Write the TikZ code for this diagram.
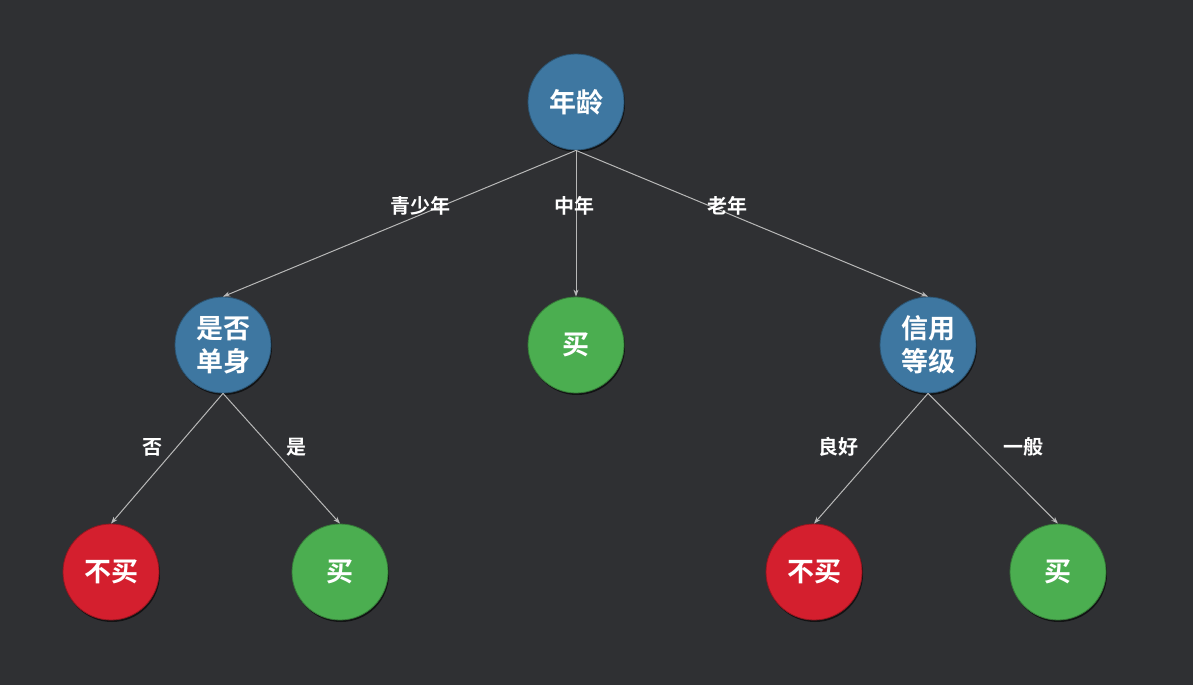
\documentclass[tikz,border=0pt]{standalone}
\usepackage{fontspec}
\newfontfamily\cjk{Noto Sans CJK SC}[BoldFont={Noto Sans CJK SC Bold}]
\usetikzlibrary{arrows.meta,shadows}
\definecolor{bg}{HTML}{2F3033}
\definecolor{nblue}{HTML}{3E77A1}
\definecolor{nred}{HTML}{D41F2E}
\definecolor{ngreen}{HTML}{4BAE50}
\definecolor{edge}{HTML}{B8B8B8}
\tikzset{
  tnode/.style={circle, minimum size=96pt, inner sep=0pt, align=center,
    text=white, font=\cjk\bfseries\fontsize{27}{33}\selectfont,
    drop shadow={shadow xshift=1pt, shadow yshift=-2pt, opacity=0.6, fill=black}},
  decn/.style={tnode, fill=nblue, draw=nblue!70!black, line width=0.8pt},
  nobuy/.style={tnode, fill=nred, draw=nred!70!black, line width=0.8pt},
  buy/.style={tnode, fill=ngreen, draw=ngreen!70!black, line width=0.8pt},
  conn/.style={draw=edge, line width=1pt, -{Stealth[length=7pt,width=5pt]}},
  elabel/.style={text=white, font=\cjk\bfseries\fontsize{20}{24}\selectfont, inner sep=1pt}
}
\begin{document}
\begin{tikzpicture}[x=1pt,y=1pt]
\fill[bg] (0,0) rectangle (1193,-685);
\useasboundingbox (0,0) rectangle (1193,-685);

\node[decn] (root) at (576,-102) {年龄};
\node[decn] (single) at (223,-345) {是否\\单身};
\node[buy] (mid) at (576,-345) {买};
\node[decn] (credit) at (928,-345) {信用\\等级};
\node[nobuy] (n1) at (111,-572) {不买};
\node[buy] (b1) at (340,-572) {买};
\node[nobuy] (n2) at (814,-572) {不买};
\node[buy] (b2) at (1058,-572) {买};

\draw[conn] (root.south) -- (single.north);
\draw[conn] (root.south) -- (mid.north);
\draw[conn] (root.south) -- (credit.north);
\draw[conn] (single.south) -- (n1.north);
\draw[conn] (single.south) -- (b1.north);
\draw[conn] (credit.south) -- (n2.north);
\draw[conn] (credit.south) -- (b2.north);

\node[elabel] (l1) at (420,-206) {青少年};
\node[elabel] (l2) at (574,-206) {中年};
\node[elabel] (l3) at (727,-206) {老年};
\node[elabel] (l4) at (152,-447) {否};
\node[elabel] (l5) at (296,-447) {是};
\node[elabel] (l6) at (838,-447) {良好};
\node[elabel] (l7) at (1023,-447) {一般};
\end{tikzpicture}
\end{document}
